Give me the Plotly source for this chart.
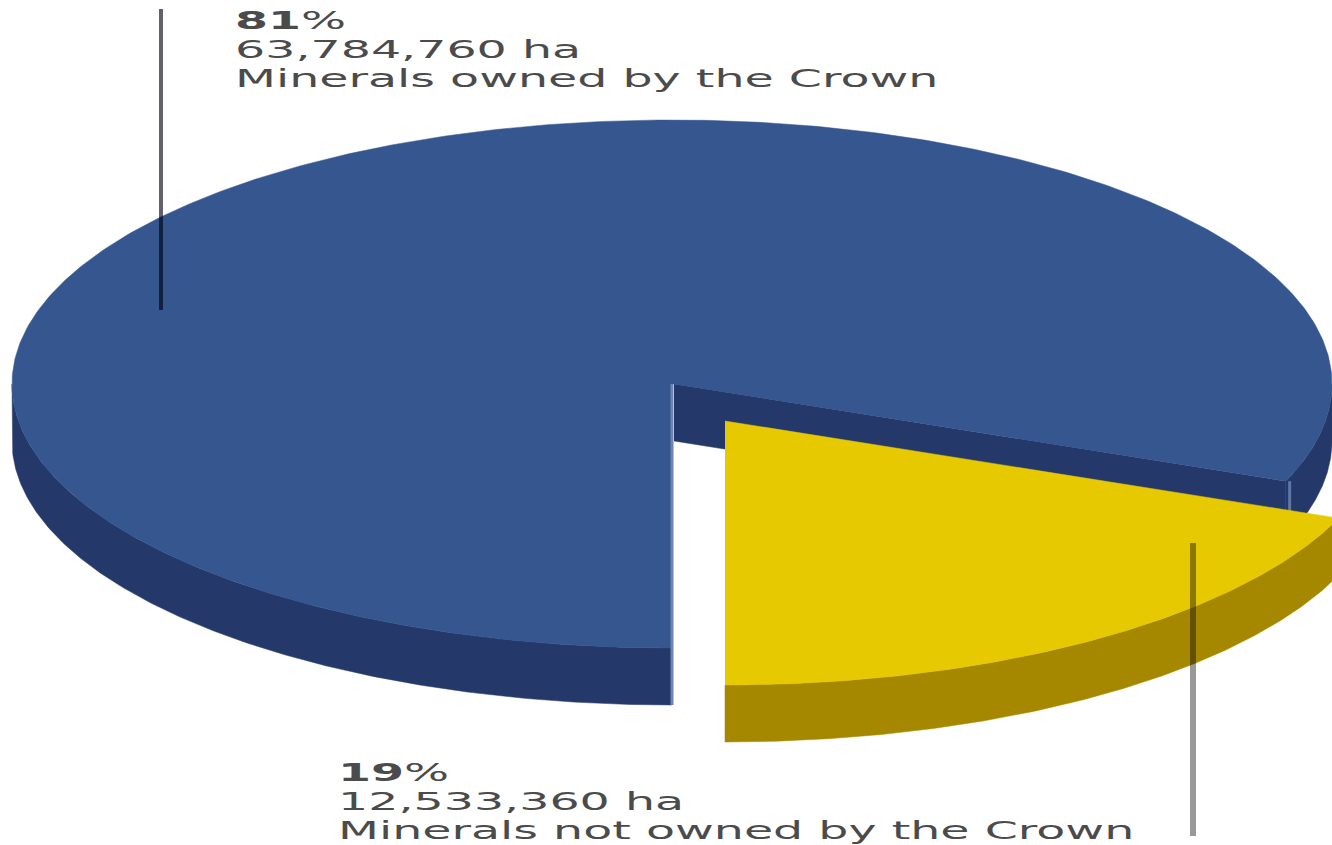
import numpy as np
import plotly.graph_objects as go

# Shares of mineral ownership
labels = ["Minerals owned by the Crown", "Minerals not owned by the Crown"]
shares_pct = [81, 19]
hectares = [63784760, 12533360]

# Colours: top face and side wall of each slice
BLUE_TOP, BLUE_WALL = "#35568f", "#24386a"
GOLD_TOP, GOLD_WALL = "#e6c900", "#a58800"

# Pie geometry in page pixels; the tilted disc is an ellipse
CX, CY, RX, RY, DEPTH = 672, 384, 660, 264, 57
EXPLODE_X, EXPLODE_Y = 53, 37


def rim(theta_deg, cx, cy, drop=0.0):
    t = np.radians(theta_deg)
    return cx + RX * np.cos(t), cy + RY * np.sin(t) + drop


def arc(a, b, n=200):
    return np.linspace(a, b, n)


def poly(fig, xs, ys, color):
    fig.add_trace(go.Scatter(x=xs, y=ys, mode="lines", fill="toself", fillcolor=color,
                             line=dict(color=color, width=0.5), hoverinfo="skip", showlegend=False))


def wall(fig, a, b, cx, cy, color):
    th = arc(a, b)
    x0, y0 = rim(th, cx, cy)
    x1, y1 = rim(th[::-1], cx, cy, DEPTH)
    poly(fig, np.r_[x0, x1], np.r_[y0, y1], color)


def seam(fig, xs, ys, color, width):
    fig.add_trace(go.Scatter(x=xs, y=ys, mode="lines", line=dict(color=color, width=width),
                             hoverinfo="skip", showlegend=False))


fig = go.Figure()

# The gold slice ends at the bottom of the disc and sweeps back by its share
sweep = 360 * shares_pct[1] / sum(shares_pct)
gold_start, gold_end = 90 - sweep, 90

# Crown slice: outer walls, cut face, then the top face
wall(fig, gold_end, 180, CX, CY, BLUE_WALL)
wall(fig, 0, gold_start, CX, CY, BLUE_WALL)
ex, ey = rim(gold_start, CX, CY)
poly(fig, [CX + 2, ex, ex, CX + 2], [CY, ey, ey + DEPTH, CY + DEPTH], BLUE_WALL)
th = arc(gold_end, 360 + gold_start, 500)
tx, ty = rim(th, CX, CY)
poly(fig, np.r_[CX, tx], np.r_[CY, ty], BLUE_TOP)
seam(fig, [CX, CX], [CY, CY + RY + DEPTH], "#6f84ae", 3)
seam(fig, [ex + 4, ex + 4], [ey, ey + DEPTH], "#5f78a6", 3)

# Exploded slice, pushed down and to the right
gx, gy = CX + EXPLODE_X, CY + EXPLODE_Y
wall(fig, gold_start, gold_end, gx, gy, GOLD_WALL)
th = arc(gold_start, gold_end)
tx, ty = rim(th, gx, gy)
poly(fig, np.r_[gx, tx], np.r_[gy, ty], GOLD_TOP)

# Leader lines
seam(fig, [161, 161], [9, 310], "rgba(0,0,20,0.62)", 4)
seam(fig, [1193, 1193], [543, 836], "rgba(0,0,0,0.40)", 6)

TEXT = "#4b4b4b"


def label_block(x, ys, pct, ha, name):
    rows = [f"<b>{str(pct)}</b>%", f"{ha:,} ha", name]
    return [dict(x=x, y=y, xref="x", yref="y", text=r, showarrow=False, xanchor="left", yanchor="middle",
                 align="left", font=dict(family="DejaVu Sans", size=25, color=TEXT))
            for y, r in zip(ys, rows)]


annotations = (label_block(233, [20, 49, 78], shares_pct[0], hectares[0], labels[0])
               + label_block(336, [772, 801, 830], shares_pct[1], hectares[1], labels[1]))

fig.update_layout(
    width=1332, height=845, margin=dict(l=0, r=0, t=0, b=0, pad=0),
    paper_bgcolor="white", plot_bgcolor="white", showlegend=False, annotations=annotations,
    xaxis=dict(range=[0, 1332], visible=False, fixedrange=True),
    yaxis=dict(range=[845, 0], visible=False, fixedrange=True),
)

# Wide letterforms for the captions
wide_text = """
var s = document.createElement('style');
s.textContent = '.annotation-text{transform-box:fill-box;transform-origin:left center;transform:scaleX(1.9);}' +
                'body{margin:0}';
document.head.appendChild(s);
"""
fig.write_html("out.html", post_script=wide_text, config={"displayModeBar": False})
